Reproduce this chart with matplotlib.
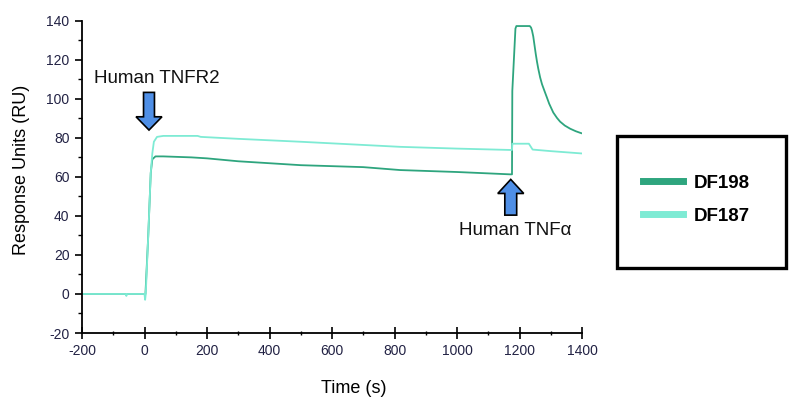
import matplotlib
matplotlib.use("Agg")
import matplotlib.pyplot as plt
from matplotlib.patches import FancyArrow, Rectangle
from matplotlib.ticker import MultipleLocator

plt.rcParams['font.family'] = ['Liberation Sans', 'DejaVu Sans']
plt.rcParams['axes.unicode_minus'] = False

# ---- data ----
t_df198 = [-200, 0, 3, 12, 20, 25, 35, 60, 150, 200, 300, 500, 700, 818, 1000, 1100, 1170, 1176,
           1177, 1187, 1190, 1233, 1237, 1240, 1244, 1248, 1252, 1256, 1260, 1266, 1272, 1280,
           1287, 1295, 1308, 1320, 1330, 1345, 1362, 1380, 1394, 1400]
v_df198 = [0, 0, 0, 30, 62, 69, 70.5, 70.5, 70, 69.5, 68, 66, 65, 63.5, 62.5, 61.8, 61.3, 61.3,
           104, 136, 137.3, 137.3, 136.5, 135, 132, 127.5, 123, 119, 115.5, 111, 107.5, 104,
           101, 97.5, 93, 90.2, 88.3, 86.3, 84.7, 83.4, 82.6, 82.3]

t_df187 = [-200, -60, -58, -56, 0, 2, 4, 12, 20, 25, 30, 40, 60, 170, 180, 300, 500, 818, 1000,
           1170, 1176, 1177, 1230, 1242, 1300, 1400]
v_df187 = [0, 0, -1, 0, 0, -3, 0, 30, 62, 72, 78, 80.5, 81, 81, 80.5, 79.5, 78, 75.4, 74.5,
           73.8, 73.8, 77, 77, 74, 73.2, 72]

series_names = ["DF198", "DF187"]
series_colors = ["#2ea57e", "#7eebd4"]

x_ticks = [-200, 0, 200, 400, 600, 800, 1000, 1200, 1400]
y_ticks = [-20, 0, 20, 40, 60, 80, 100, 120, 140]

fig = plt.figure(figsize=(8, 4.13), dpi=100)
ax = fig.add_axes([0.1025, 0.1937, 0.625, 0.756])

l1, = ax.plot(t_df198, v_df198, color=series_colors[0], lw=1.3, label=series_names[0])
l2, = ax.plot(t_df187, v_df187, color=series_colors[1], lw=1.3, label=series_names[1])

ax.set_xlim(-200, 1400)
ax.set_ylim(-20, 140)
ax.set_xticks(x_ticks)
ax.set_yticks(y_ticks)
ax.xaxis.set_minor_locator(MultipleLocator(100))
ax.yaxis.set_minor_locator(MultipleLocator(10))
ax.spines['top'].set_visible(False)
ax.spines['right'].set_visible(False)
for s in ['left', 'bottom']:
    ax.spines[s].set_linewidth(1.3)
ax.tick_params(axis='x', which='major', direction='inout', length=8, width=1.2, labelsize=10, pad=4)
ax.tick_params(axis='x', which='minor', direction='inout', length=3, width=1.0)
ax.tick_params(axis='y', which='major', direction='out', length=5, width=1.2, labelsize=10, pad=4)
ax.tick_params(axis='y', which='minor', direction='out', length=3, width=1.0)
for lab in ax.get_xticklabels() + ax.get_yticklabels():
    lab.set_color('#222244')

fig.text(0.0275, 0.588, "Response Units (RU)", rotation=90, fontsize=13, ha='center', va='center')
fig.text(0.4425, 0.06, "Time (s)", fontsize=13, ha='center', va='center')

# annotations
arrow_color = '#4f8fe6'
ax.add_patch(FancyArrow(14.4, 103.3, 0, -19.3, width=35, head_width=83, head_length=6.8,
                        length_includes_head=True, fc=arrow_color, ec='black', lw=1.2, zorder=5))
ax.add_patch(FancyArrow(1172, 40.4, 0, 18.3, width=38, head_width=83, head_length=7.2,
                        length_includes_head=True, fc=arrow_color, ec='black', lw=1.2, zorder=5))
ax.text(40, 110.6, "Human TNFR2", fontsize=13.5, ha='center', va='center', color='#111111')
ax.text(1186, 32.7, "Human TNF\u03b1", fontsize=13.5, ha='center', va='center', color='#111111')

# legend box
fig.patches.append(Rectangle((0.771, 0.351), 0.211, 0.3196, transform=fig.transFigure,
                             fill=False, ec='black', lw=2.4))
leg = fig.legend(handles=[l1, l2], loc='upper left', bbox_to_anchor=(0.783, 0.618),
                 frameon=False, handlelength=2.1, handletextpad=0.6, labelspacing=0.85,
                 prop={'weight': 'bold', 'size': 13.5})
for ln in leg.get_lines():
    ln.set_linewidth(5)

fig.savefig("out.png", dpi=100)
